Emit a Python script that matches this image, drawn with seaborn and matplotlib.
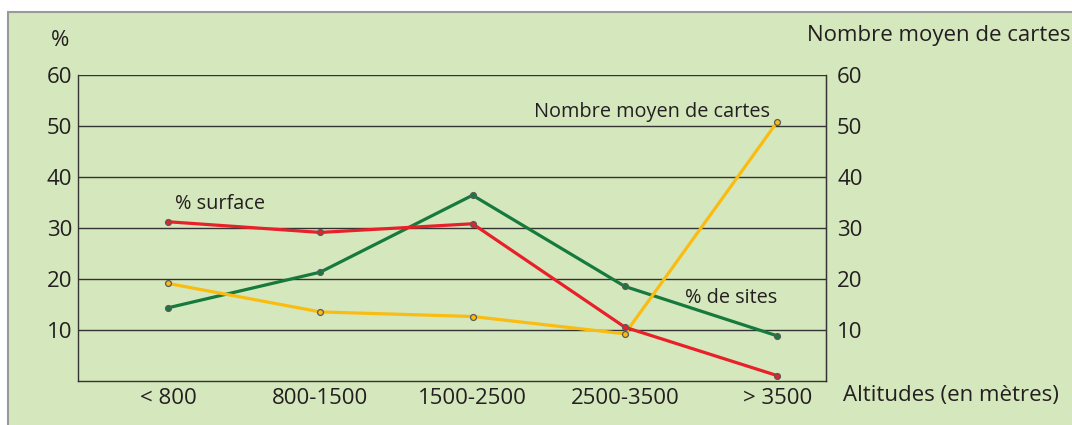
import matplotlib
matplotlib.use("Agg")
import matplotlib.pyplot as plt
from matplotlib.patches import Rectangle
import seaborn as sns
import pandas as pd

# Data
altitudes = ["< 800", "800-1500", "1500-2500", "2500-3500", "> 3500"]
pct_surface = [31.2, 29.1, 30.8, 10.5, 1.0]
pct_sites = [14.3, 21.3, 36.4, 18.5, 8.8]
nb_cartes = [19.1, 13.5, 12.6, 9.2, 50.8]
yticks = [10, 20, 30, 40, 50, 60]

bg = "#d5e7bd"
colors = {"% surface": "#e8202a", "% de sites": "#167a3c", "Nombre moyen de cartes": "#fbbc12"}

rows = []
for name, vals in [("% de sites", pct_sites), ("Nombre moyen de cartes", nb_cartes), ("% surface", pct_surface)]:
    for i, v in enumerate(vals):
        rows.append({"pos": i, "value": v, "serie": name})
df = pd.DataFrame(rows)

sns.set_style("white")
plt.rcParams["font.family"] = ["Open Sans", "DejaVu Sans"]

fs = 16
fs_note = 14.3

fig = plt.figure(figsize=(10.72, 4.25), dpi=100)
fig.patch.set_facecolor("white")
box = Rectangle((8 / 1072, -0.1), 1.1, 1.1 - 12 / 425, transform=fig.transFigure,
                facecolor=bg, edgecolor="#9a9a9a", linewidth=1.5, zorder=-10)
fig.add_artist(box)

ax = fig.add_axes([78 / 1072, (425 - 380.7) / 425, (826 - 78) / 1072, (380.7 - 75) / 425])
ax.patch.set_alpha(0)

for y in yticks:
    ax.axhline(y, color="#333333", lw=1.0, zorder=1)

sns.lineplot(data=df, x="pos", y="value", hue="serie", palette=colors, lw=2.3,
             legend=False, ax=ax, zorder=3)
for name, vals in [("% de sites", pct_sites), ("Nombre moyen de cartes", nb_cartes), ("% surface", pct_surface)]:
    ax.scatter(range(len(vals)), vals, s=18, facecolor=colors[name], edgecolor="#5a5a5a",
               linewidth=0.9, zorder=4)

ax.set_xlim(-0.59, 4.32)
ax.set_ylim(0, 60)
ax.set_xticks(range(len(altitudes)))
ax.set_xticklabels(altitudes)
ax.set_yticks(yticks)
ax.set_xlabel("")
ax.set_ylabel("")
ax.tick_params(axis="both", length=0, labelsize=fs, colors="#231f20")
ax.tick_params(axis="x", pad=5)
ax.tick_params(axis="y", pad=4)
for s in ["left", "bottom", "right"]:
    ax.spines[s].set_color("#333333")
    ax.spines[s].set_linewidth(1.0)
ax.spines["top"].set_visible(False)

ax2 = ax.twinx()
ax2.set_ylim(0, 60)
ax2.set_yticks(yticks)
ax2.tick_params(axis="y", length=0, labelsize=fs, pad=8, colors="#231f20")
for s in ["left", "bottom", "top"]:
    ax2.spines[s].set_visible(False)
ax2.spines["right"].set_color("#333333")

ax.text(0.05, 32.8, "% surface", fontsize=fs_note, color="#231f20", ha="left", va="bottom")
ax.text(3.95, 50.8, "Nombre moyen de cartes", fontsize=fs_note, color="#231f20", ha="right", va="bottom")
ax.text(3.70, 14.3, "% de sites", fontsize=fs_note, color="#231f20", ha="center", va="bottom")

fig.text(60 / 1072, 1 - 40 / 425, "%", fontsize=fs, color="#231f20", ha="center", va="center")
fig.text(807 / 1072, 1 - 35 / 425, "Nombre moyen de cartes", fontsize=fs, color="#231f20", ha="left", va="center")
fig.text(843 / 1072, 1 - 396 / 425, "Altitudes (en mètres)", fontsize=fs, color="#231f20", ha="left", va="center")

fig.savefig("out.png", dpi=100, facecolor="white")
